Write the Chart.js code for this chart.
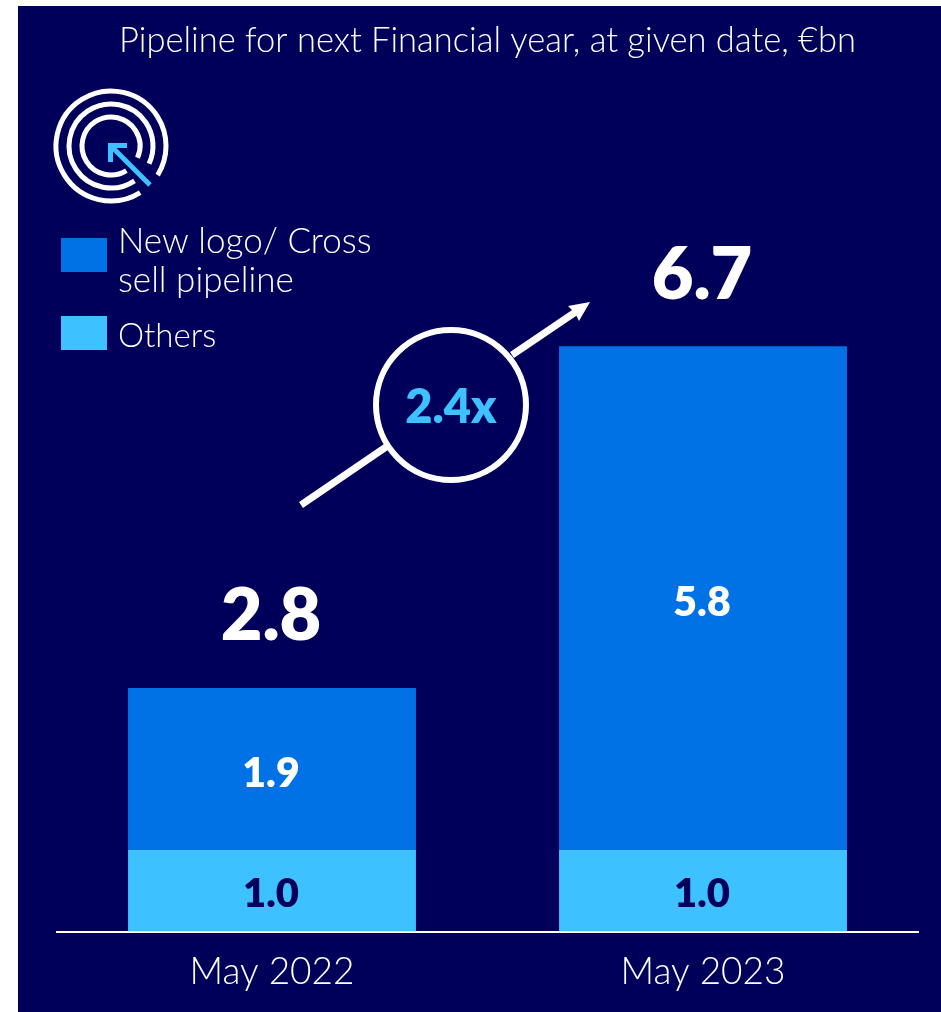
<!DOCTYPE html>
<html lang="en">

<head>
  <meta charset="UTF-8">
  <title>Pipeline for next Financial year</title>
  <script src="https://cdn.jsdelivr.net/npm/chart.js"></script>
  <style>
    html, body {
      margin: 0;
      padding: 0;
      background: #ffffff;
    }

    #panel {
      position: absolute;
      left: 18px;
      top: 6px;
      width: 923px;
      height: 1006px;
      background: #00005a;
    }

    #pipelineChart {
      position: absolute;
      left: 0;
      top: 0;
    }
  </style>
</head>

<body>
  <div id="panel"></div>
  <canvas id="pipelineChart" width="941" height="1012"></canvas>

  <script>
    const titleText = 'Pipeline for next Financial year, at given date, €bn';
    const categories = ['May 2022', 'May 2023'];
    const othersValues = [0.94, 0.94];
    const newLogoValues = [1.86, 5.79];
    const othersLabels = ['1.0', '1.0'];
    const newLogoLabels = ['1.9', '5.8'];
    const totalLabels = ['2.8', '6.7'];
    const growthLabel = '2.4x';
    const newLogoLegend = ['New logo/ Cross', 'sell pipeline'];
    const othersLegend = ['Others'];

    const NAVY = '#00005a';
    const BLUE = '#0072e6';
    const LIGHT = '#3dc2ff';
    const WHITE = '#ffffff';
    const FONT = 'Lato, sans-serif';

    function drawText(ctx, text, x, y, font, color) {
      ctx.font = font;
      ctx.fillStyle = color;
      ctx.fillText(text, x, y);
    }

    function drawLogo(ctx) {
      const cx = 111, cy = 146;
      const toRad = Math.PI / 180;
      ctx.strokeStyle = WHITE;
      ctx.lineWidth = 5;
      [[55, 32, 58], [42, 25, 56], [29, 24, 58]].forEach(([r, from, to]) => {
        ctx.beginPath();
        ctx.arc(cx, cy, r, to * toRad, (from + 360) * toRad);
        ctx.stroke();
      });

      ctx.strokeStyle = LIGHT;
      ctx.lineWidth = 5;
      ctx.beginPath();
      ctx.moveTo(150, 185);
      ctx.lineTo(112, 147);
      ctx.stroke();
      ctx.fillStyle = LIGHT;
      ctx.fillRect(108, 143, 19, 5);
      ctx.fillRect(108, 143, 5, 19);
    }

    function drawGrowthArrow(ctx) {
      ctx.strokeStyle = WHITE;
      ctx.lineWidth = 7;
      ctx.beginPath();
      ctx.moveTo(301, 505);
      ctx.lineTo(386, 447);
      ctx.moveTo(512, 355);
      ctx.lineTo(577, 311);
      ctx.stroke();

      ctx.fillStyle = WHITE;
      ctx.beginPath();
      ctx.moveTo(590, 302);
      ctx.lineTo(568, 306);
      ctx.lineTo(575, 313);
      ctx.lineTo(579, 321);
      ctx.closePath();
      ctx.fill();

      ctx.lineWidth = 6;
      ctx.beginPath();
      ctx.arc(451, 405, 75, 0, Math.PI * 2);
      ctx.stroke();
    }

    const annotations = {
      id: 'annotations',
      afterDatasetsDraw(chart) {
        const ctx = chart.ctx;
        const others = chart.getDatasetMeta(0).data;
        const newLogo = chart.getDatasetMeta(1).data;

        ctx.save();
        ctx.textAlign = 'center';
        ctx.textBaseline = 'middle';
        categories.forEach((_, i) => {
          const bar = newLogo[i];
          const low = others[i];
          drawText(ctx, othersLabels[i], low.x - 1, (low.y + low.base) / 2 + 3, '800 40px ' + FONT, NAVY);
          drawText(ctx, newLogoLabels[i], bar.x - 1, (bar.y + bar.base) / 2 + 5, '800 41px ' + FONT, WHITE);
          drawText(ctx, totalLabels[i], bar.x - 1, bar.y - 71, '800 72px ' + FONT, WHITE);
        });
        drawText(ctx, growthLabel, 451, 408, '800 47px ' + FONT, LIGHT);

        ctx.textAlign = 'left';
        ctx.textBaseline = 'alphabetic';
        drawText(ctx, newLogoLegend[0], 118, 253, '300 35px ' + FONT, WHITE);
        drawText(ctx, newLogoLegend[1], 118, 292, '300 35px ' + FONT, WHITE);
        drawText(ctx, othersLegend[0], 118, 347, '300 33px ' + FONT, WHITE);
        ctx.fillStyle = BLUE;
        ctx.fillRect(61, 238, 46, 34);
        ctx.fillStyle = LIGHT;
        ctx.fillRect(61, 316, 46, 34);

        drawLogo(ctx);
        drawGrowthArrow(ctx);
        ctx.restore();
      }
    };

    new Chart(document.getElementById('pipelineChart').getContext('2d'), {
      type: 'bar',
      data: {
        labels: categories,
        datasets: [
          { label: 'Others', data: othersValues, backgroundColor: LIGHT },
          { label: 'New logo/ Cross sell pipeline', data: newLogoValues, backgroundColor: BLUE }
        ]
      },
      options: {
        responsive: false,
        animation: false,
        barPercentage: 0.668,
        categoryPercentage: 1,
        layout: {
          padding: { left: 56.5, right: 22.5, top: 0, bottom: 0 }
        },
        plugins: {
          legend: { display: false },
          tooltip: { enabled: false },
          title: {
            display: true,
            text: titleText,
            color: WHITE,
            font: { family: FONT, size: 34.5, weight: '300', lineHeight: 1.2 },
            padding: { top: 20.5, bottom: 0 }
          }
        },
        scales: {
          x: {
            stacked: true,
            grid: { display: false, drawTicks: false },
            border: { color: WHITE, width: 2 },
            ticks: {
              color: WHITE,
              padding: 18,
              font: { family: FONT, size: 37, weight: '300', lineHeight: 1.2 }
            }
          },
          y: {
            stacked: true,
            display: false,
            min: 0,
            max: 10
          }
        }
      },
      plugins: [annotations]
    });
  </script>
</body>

</html>
